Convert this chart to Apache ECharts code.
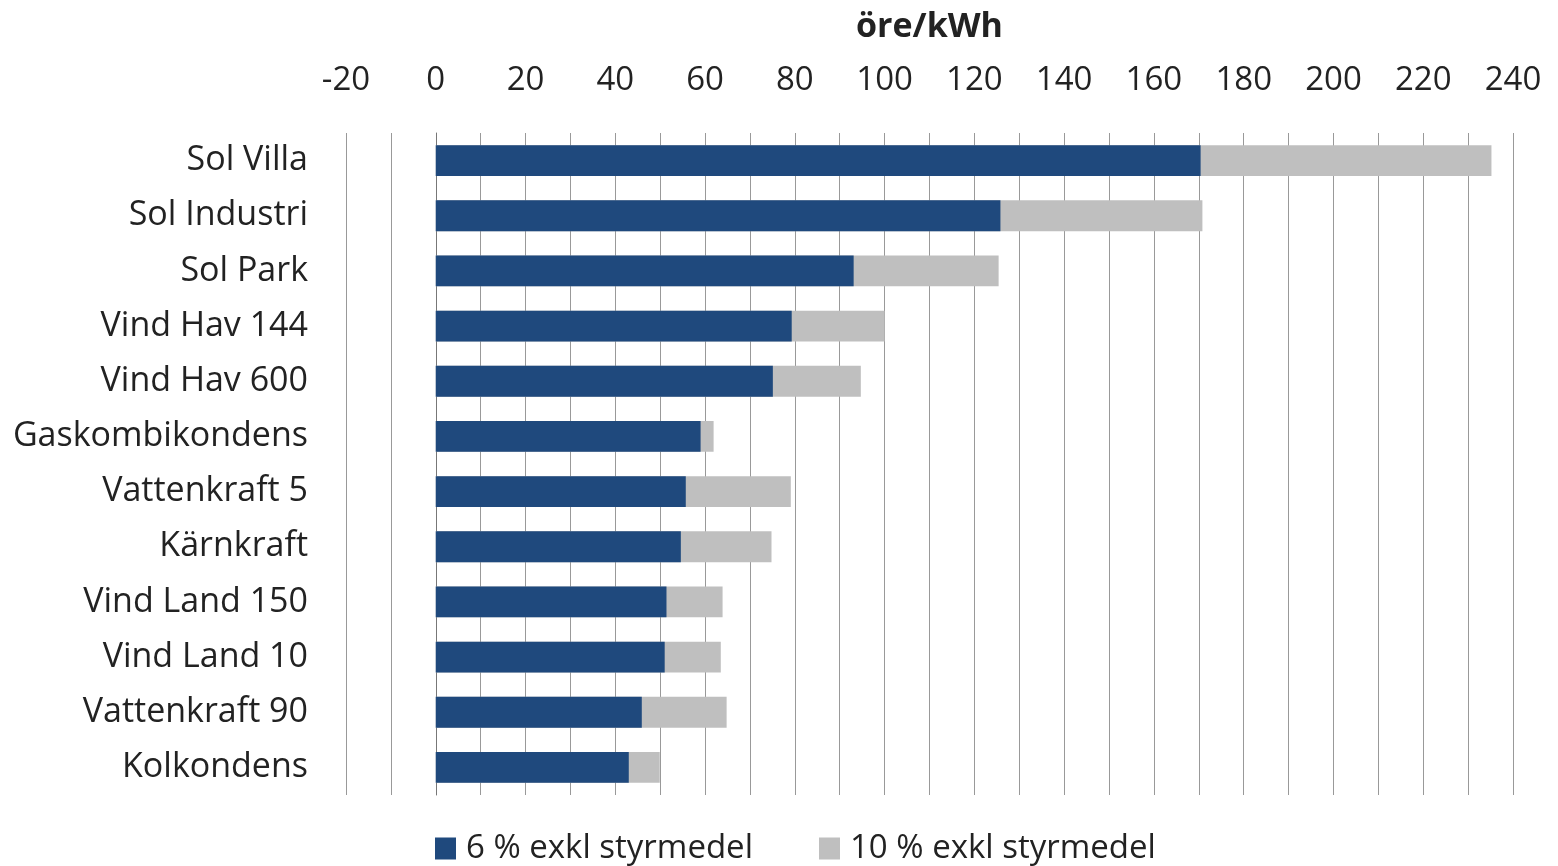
<!DOCTYPE html>
<html><head><meta charset="utf-8">
<script src="https://cdn.jsdelivr.net/npm/echarts@6/dist/echarts.min.js"></script>
<style>html,body{margin:0;padding:0;background:#fff}#c{width:1558px;height:866px}</style>
</head><body><div id="c"></div>
<script>
const categories = ["Sol Villa","Sol Industri","Sol Park","Vind Hav 144","Vind Hav 600","Gaskombikondens","Vattenkraft 5","Kärnkraft","Vind Land 150","Vind Land 10","Vattenkraft 90","Kolkondens"];
const rate6 = [170.4,125.8,93.1,79.3,75.1,59.0,55.7,54.6,51.4,51.0,45.9,43.0];
const rate10 = [235.2,170.8,125.4,100.0,94.7,61.9,79.1,74.8,63.9,63.5,64.8,49.9];
const xTicks = {min:-20,max:240,interval:20};
const font = '"Open Sans", sans-serif';
const chart = echarts.init(document.getElementById('c'));
chart.setOption({
  animation:false,
  grid:{left:346,right:45,top:133,bottom:71},
  legend:{top:827,left:430,icon:'rect',itemWidth:21,itemHeight:22,itemGap:66,data:['6 % exkl styrmedel','10 % exkl styrmedel'],
    textStyle:{fontFamily:font,fontSize:33,color:'#222',padding:[0,0,0,5]}},
  xAxis:{type:'value',position:'top',min:xTicks.min,max:xTicks.max,interval:xTicks.interval,
    name:'öre/kWh',nameLocation:'middle',nameGap:89,nameTextStyle:{fontFamily:font,fontSize:34,fontWeight:'bold',color:'#222'},
    axisLine:{show:false},axisTick:{show:false},
    axisLabel:{fontFamily:font,fontSize:33,color:'#222',margin:36},
    splitLine:{show:true,lineStyle:{color:'#999',width:1}},
    minorTick:{show:false,splitNumber:2},
    minorSplitLine:{show:true,lineStyle:{color:'#999',width:1}}},
  yAxis:{type:'category',inverse:true,data:categories,
    axisLine:{show:true,lineStyle:{color:'#777'}},axisTick:{show:false},
    axisLabel:{fontFamily:font,fontSize:34,color:'#222',margin:38}},
  series:[
    {name:'10 % exkl styrmedel',type:'bar',data:rate10,barWidth:'56%',itemStyle:{color:'#BFBFBF'}},
    {name:'6 % exkl styrmedel',type:'bar',data:rate6,barWidth:'56%',barGap:'-100%',itemStyle:{color:'#1F497D'}}
  ]
});
</script></body></html>
